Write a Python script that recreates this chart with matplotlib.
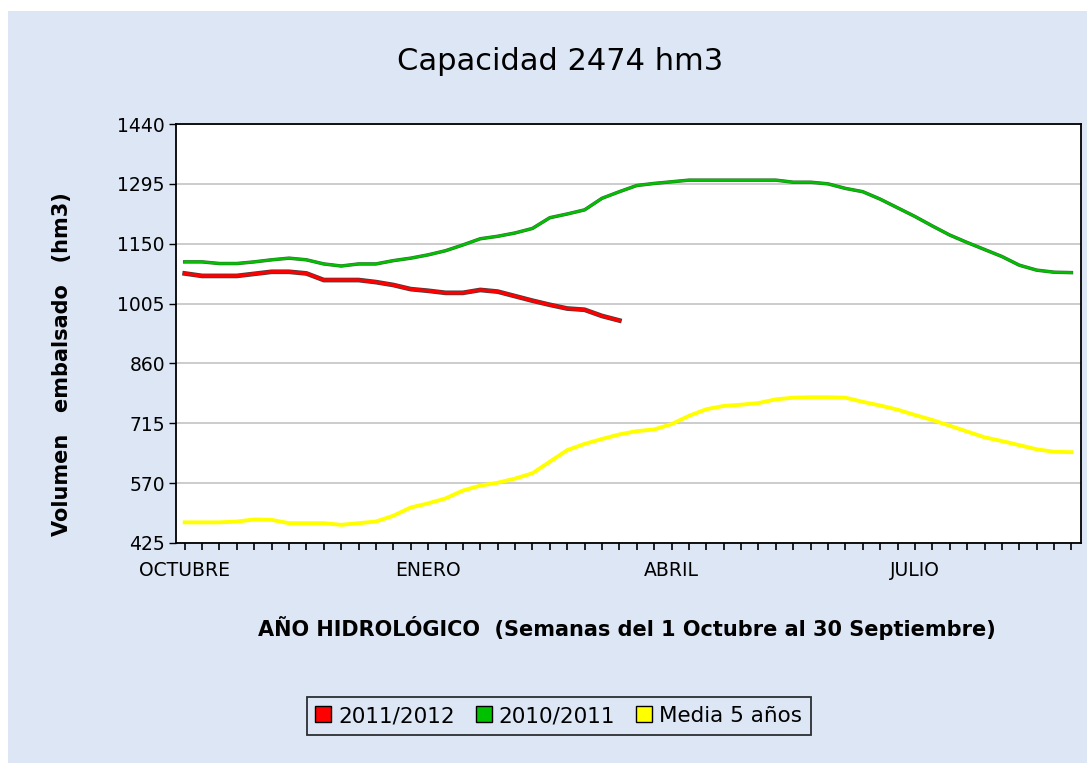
import matplotlib
matplotlib.use("Agg")
import matplotlib.pyplot as plt
import matplotlib.patheffects as pe
from matplotlib.patches import Rectangle

# ---- data ----
weeks = list(range(52))
month_labels = {0: "OCTUBRE", 14: "ENERO", 28: "ABRIL", 42: "JULIO"}
y_ticks = [425, 570, 715, 860, 1005, 1150, 1295, 1440]

s_2011_2012 = [1078, 1072, 1072, 1072, 1077, 1082, 1082, 1078, 1062, 1062,
               1062, 1057, 1050, 1040, 1036, 1031, 1031, 1038, 1034, 1023,
               1012, 1002, 993, 990, 975, 964]

s_2010_2011 = [1106, 1106, 1102, 1102, 1106, 1111, 1115, 1111, 1101, 1096,
               1101, 1101, 1109, 1115, 1123, 1133, 1147, 1162, 1168, 1176,
               1187, 1213, 1222, 1232, 1260, 1276, 1291, 1296, 1300, 1304,
               1304, 1304, 1304, 1304, 1304, 1299, 1299, 1295, 1284, 1276,
               1258, 1237, 1216, 1193, 1171, 1153, 1136, 1119, 1098, 1086,
               1081, 1080]

s_media5 = [475, 475, 475, 477, 482, 481, 473, 473, 473, 469,
            473, 477, 491, 511, 521, 533, 552, 564, 571, 581,
            594, 622, 650, 665, 677, 688, 696, 700, 713, 733,
            749, 757, 760, 764, 773, 777, 778, 778, 777, 767,
            758, 748, 735, 723, 709, 695, 681, 672, 662, 652,
            646, 645]

series_names = ["2011/2012", "2010/2011", "Media 5 años"]
series_colors = ["#ff0000", "#00c000", "#ffff00"]

W, H = 1087, 763
fig = plt.figure(figsize=(W / 100, H / 100), dpi=100, facecolor="white")
bg = Rectangle((8 / W, 0), 1 - 8 / W, 1 - 11 / H, transform=fig.transFigure,
               facecolor="#dce6f5", edgecolor="none", zorder=-10)
fig.patches.append(bg)

ax = fig.add_axes([176 / W, 1 - 543 / H, (1081 - 176) / W, (543 - 124) / H])
ax.set_facecolor("white")

ax.plot(weeks[:len(s_2011_2012)], s_2011_2012, color=series_colors[0], lw=2.4,
        path_effects=[pe.Stroke(linewidth=3.4, foreground="#404040"), pe.Normal()],
        zorder=5)
ax.plot(weeks[:len(s_2010_2011)], s_2010_2011, color=series_colors[1], lw=1.8,
        path_effects=[pe.Stroke(linewidth=2.5, foreground="#3a6a3a"), pe.Normal()],
        zorder=4)
ax.plot(weeks[:len(s_media5)], s_media5, color=series_colors[2], lw=2.8, zorder=3)

ax.set_xlim(-0.5, 51.55)
ax.set_ylim(425, 1440)
ax.set_yticks(y_ticks)
ax.set_yticklabels([str(v) for v in y_ticks])
ax.set_xticks(weeks)
ax.set_xticklabels([month_labels.get(w, "") for w in weeks])
ax.yaxis.grid(True, color="#c4c4c4", lw=1.2)
ax.set_axisbelow(True)
ax.tick_params(axis="y", direction="out", length=5, width=1, labelsize=13.5,
               colors="black", pad=3)
ax.tick_params(axis="x", direction="out", length=5, width=1.2, labelsize=13.5,
               colors="black", pad=8)
for sp in ax.spines.values():
    sp.set_color("black")
    sp.set_linewidth(1.3)

fig.text(560 / W, 1 - 62 / H, "Capacidad 2474 hm3", ha="center", va="center",
         fontsize=22, color="black")
fig.text(62 / W, 1 - 364 / H, "Volumen   embalsado   (hm3)", ha="center",
         va="center", rotation=90, fontsize=15, fontweight="bold")
fig.text(627 / W, 1 - 628 / H,
         "AÑO HIDROLÓGICO  (Semanas del 1 Octubre al 30 Septiembre)",
         ha="center", va="center", fontsize=15, fontweight="bold")

handles = [plt.Line2D([], [], marker="s", linestyle="none", markersize=11,
                      markerfacecolor=c, markeredgecolor="black", markeredgewidth=1)
           for c in series_colors]
leg = fig.legend(handles, series_names, loc="center",
                 bbox_to_anchor=(559 / W, 1 - 716 / H), ncol=3, frameon=True,
                 fontsize=15.5, handlelength=0.7, handletextpad=0.35,
                 columnspacing=1.0, borderpad=0.4, fancybox=False)
leg.get_frame().set_edgecolor("black")
leg.get_frame().set_linewidth(1.3)
leg.get_frame().set_facecolor("#dce6f5")

fig.savefig("out.png", dpi=100, facecolor=fig.get_facecolor())
